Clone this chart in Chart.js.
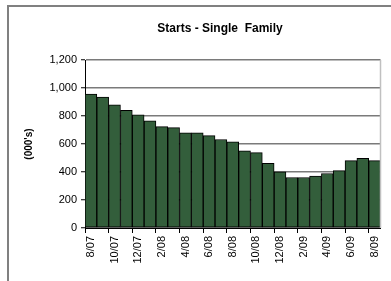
<!DOCTYPE html>
<html>
<head>
<meta charset="utf-8">
<script src="https://cdn.jsdelivr.net/npm/chart.js@4"></script>
<style>
  html, body { margin: 0; padding: 0; background: #fff; }
  canvas { display: block; }
</style>
</head>
<body>
<canvas id="myCanvas" width="391" height="281"></canvas>
<script>
// months 8/07 .. 8/09
var mesi = ['8/07','9/07','10/07','11/07','12/07','1/08','2/08','3/08','4/08','5/08','6/08','7/08',
            '8/08','9/08','10/08','11/08','12/08','1/09','2/09','3/09','4/09','5/09','6/09','7/09','8/09'];
var avvii = [957, 936, 880, 840, 809, 766, 724, 717, 679, 679, 660, 632,
             616, 552, 538, 462, 401, 361, 361, 371, 389, 410, 481, 498, 481];
var titolo = 'Starts - Single  Family';
var titoloY = "(000's)";

var font = 'Liberation Sans, Arial, sans-serif';

// frame + title + right border of plot area
var cornice = {
  id: 'cornice',
  afterDraw: function (chart) {
    var c = chart.ctx;
    var a = chart.chartArea;
    c.save();
    c.strokeStyle = '#808080';
    c.lineWidth = 2;
    c.beginPath();
    c.moveTo(8, 281);
    c.lineTo(8, 6);
    c.lineTo(391, 6);
    c.stroke();

    c.strokeStyle = '#c0c0c0';
    c.lineWidth = 1.5;
    c.beginPath();
    c.moveTo(a.right, a.top);
    c.lineTo(a.right, a.bottom);
    c.stroke();

    c.fillStyle = '#000';
    c.font = 'bold 12px ' + font;
    c.textAlign = 'center';
    c.textBaseline = 'middle';
    c.fillText(titolo, 220, 29);
    c.restore();
  }
};

let myChart = new Chart(document.querySelector('#myCanvas').getContext('2d'), {
  type: 'bar',
  data: {
    labels: mesi,
    datasets: [{
      data: avvii,
      backgroundColor: '#335e3b',
      borderColor: '#000',
      borderWidth: 1,
      borderSkipped: false,
      barPercentage: 1,
      categoryPercentage: 1
    }]
  },
  options: {
    responsive: false,
    animation: false,
    layout: { padding: { left: 0, top: 60, right: 10, bottom: 0 } },
    plugins: {
      legend: { display: false },
      title: { display: false },
      tooltip: { enabled: false }
    },
    scales: {
      x: {
        offset: true,
        afterFit: function (s) { s.height = 53; },
        grid: {
          offset: true,
          drawOnChartArea: false,
          tickLength: 5,
          color: function (ctx) {
            return (ctx.index !== undefined && ctx.index % 2 === 0) ? '#000' : 'rgba(0,0,0,0)';
          }
        },
        border: { display: true, color: '#000', width: 1 },
        ticks: {
          autoSkip: false,
          minRotation: 90,
          maxRotation: 90,
          padding: 3,
          color: '#000',
          font: { family: font, size: 11 },
          callback: function (v, i) { return i % 2 === 0 ? mesi[i] : ''; }
        }
      },
      y: {
        min: 0,
        max: 1200,
        afterFit: function (s) { s.width = 85; },
        title: {
          display: true,
          text: titoloY,
          color: '#000',
          font: { family: font, size: 10, weight: 'bold' },
          padding: { top: 23, bottom: 0 }
        },
        grid: {
          color: '#7a7a7a',
          lineWidth: 1.5,
          tickLength: 4,
          tickColor: '#000',
          tickWidth: 1
        },
        border: { display: true, color: '#000', width: 1 },
        ticks: {
          stepSize: 200,
          padding: 4,
          color: '#000',
          font: { family: font, size: 11 },
          callback: function (v) { return v.toLocaleString('en-US'); }
        }
      }
    }
  },
  plugins: [cornice]
});
</script>
</body>
</html>
